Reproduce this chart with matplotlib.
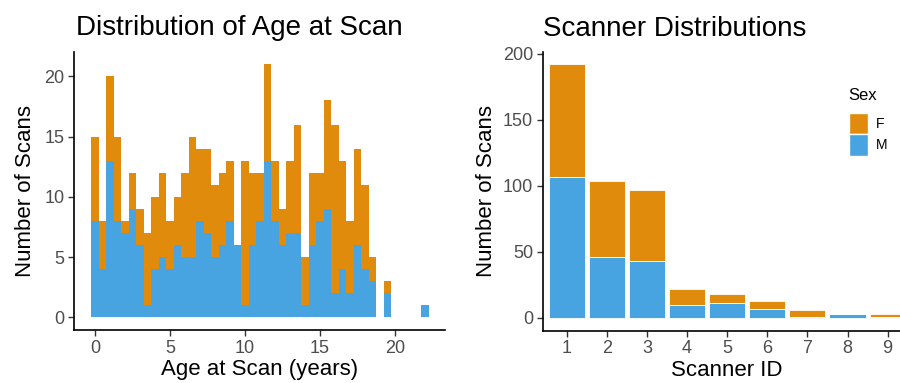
import matplotlib
matplotlib.use('Agg')
import matplotlib.pyplot as plt
import numpy as np
from matplotlib.patches import Patch

plt.rcParams['font.family'] = ['Liberation Sans', 'DejaVu Sans']

# age histogram: 0.5 year bins, first bin centred on 0
bin_width = 0.5
age_male = [8, 4, 13, 8, 7, 9, 6, 1, 4, 5, 4, 6, 5, 5, 8, 7, 5, 6, 8, 6, 1, 6, 8,
            13, 8, 6, 7, 7, 1, 6, 8, 9, 2, 4, 2, 6, 4, 3, 0, 2, 0, 0, 0, 0, 1]
age_female = [7, 4, 7, 7, 1, 3, 3, 6, 6, 7, 4, 4, 7, 10, 6, 7, 6, 6, 5, 0, 12, 6, 4,
              8, 5, 3, 6, 9, 4, 6, 4, 9, 14, 9, 6, 8, 7, 2, 0, 1, 0, 0, 0, 0, 0]

# scans per scanner
scanner_ids = ['1', '2', '3', '4', '5', '6', '7', '8', '9']
scanner_male = [107, 46, 43, 10, 11, 7, 1, 3, 1]
scanner_female = [85, 58, 54, 12, 7, 6, 5, 0, 2]

col_f = '#E08B0B'
col_m = '#48A4E0'
tick_col = '#4D4D4D'


def style_axes(ax):
    for s in ['top', 'right']:
        ax.spines[s].set_visible(False)
    for s in ['left', 'bottom']:
        ax.spines[s].set_linewidth(1.2)
        ax.spines[s].set_color('black')
    ax.tick_params(axis='both', direction='out', length=4, width=1,
                   color='#333333', labelcolor=tick_col, labelsize=13, pad=3)


fig = plt.figure(figsize=(9, 3.83), dpi=100)

# left: age at scan
ax1 = fig.add_axes([0.0826, 0.1384, 0.4118, 0.7266])
centers = np.arange(len(age_male)) * bin_width
m = np.array(age_male)
f = np.array(age_female)
ax1.bar(centers, m, width=bin_width, color=col_m, linewidth=0)
ax1.bar(centers, f, width=bin_width, bottom=m, color=col_f, linewidth=0)
ax1.set_xlim(-1.38, 23.33)
ax1.set_ylim(-1.05, 22.05)
ax1.set_xticks([0, 5, 10, 15, 20])
ax1.set_yticks([0, 5, 10, 15, 20])
style_axes(ax1)
ax1.set_xlabel('Age at Scan (years)', fontsize=16, labelpad=2)
ax1.set_ylabel('Number of Scans', fontsize=16, labelpad=6)
fig.text(76 / 900, 1 - 35 / 383, 'Distribution of Age at Scan', fontsize=20,
         ha='left', va='baseline')

# right: scanner counts
ax2 = fig.add_axes([0.603, 0.1366, 0.410, 0.7287])
xs = np.arange(1, len(scanner_ids) + 1)
sm = np.array(scanner_male)
sf = np.array(scanner_female)
ax2.bar(xs, sm, width=0.9, color=col_m, edgecolor='white', linewidth=0.6)
ax2.bar(xs, sf, width=0.9, bottom=sm, color=col_f, edgecolor='white', linewidth=0.6)
ax2.set_xlim(0.4, 9.6)
ax2.set_ylim(-9.6, 201.6)
ax2.set_xticks(xs)
ax2.set_xticklabels(scanner_ids)
ax2.set_yticks([0, 50, 100, 150, 200])
style_axes(ax2)
ax2.set_xlabel('Scanner ID', fontsize=16, labelpad=2)
ax2.set_ylabel('Number of Scans', fontsize=16, labelpad=4)
fig.text(543 / 900, 1 - 36 / 383, 'Scanner Distributions', fontsize=20,
         ha='left', va='baseline')

# legend for sex, title drawn separately to keep the gap above the keys
fig.text(848 / 900, 1 - 100 / 383, 'Sex', fontsize=12, ha='left', va='baseline')
handles = [Patch(facecolor=col_f, edgecolor='white'),
           Patch(facecolor=col_m, edgecolor='white')]
fig.legend(handles, ['F', 'M'], loc='upper left',
           bbox_to_anchor=(836 / 900, 1 - 100 / 383), frameon=False,
           fontsize=10, handlelength=1.4, handleheight=2.0,
           handletextpad=0.6, labelspacing=0.02)

fig.savefig('out.png', dpi=100)
